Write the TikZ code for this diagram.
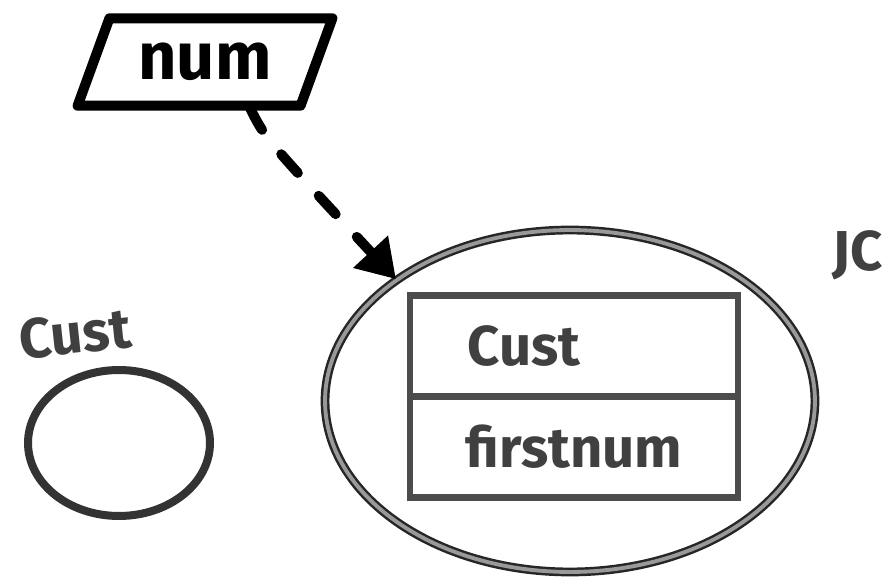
\documentclass[tikz,border=0pt]{standalone}
\usepackage{fontspec}
\setmainfont{Fira Sans}
\usepackage{tikz}
\usetikzlibrary{arrows.meta,positioning,shapes.geometric}

\begin{document}
\begin{tikzpicture}[
x=0.02cm, y=-0.02cm,
attr/.style={
    trapezium, draw,
    trapezium left angle=64, trapezium right angle=116,
    trapezium stretches=true,
    minimum width=5.1cm,
    minimum height=1.75cm,
    line width=0.2cm, line join=round,
    font=\fontsize{38}{42}\selectfont\bfseries
},
ent/.style={
    ellipse, draw=black!85,
    double=black!40, double distance=2.2pt,
    line width=1.4pt,
    minimum width=9.8cm,
    minimum height=6.84cm
},
blob/.style={
    ellipse, draw=black!80,
    line width=0.16cm,
    minimum width=3.64cm,
    minimum height=2.92cm
},
row/.style={
    rectangle, draw=black!70,
    line width=0.13cm,
    minimum width=6.56cm,
    minimum height=2.02cm,
    outer sep=0pt,
    text=black!75,
    font=\fontsize{32}{36}\selectfont\bfseries
},
lbl/.style={
    text=black!75,
    font=\fontsize{32}{36}\selectfont\bfseries
},
dasharr/.style={
    -{Triangle[length=0.75cm,width=0.9cm]},
    line width=0.2cm, line cap=round,
    dash pattern=on 0.5cm off 0.62cm
}
]
\useasboundingbox (0,0) rectangle (894,581);

\node[attr] (num) at (205,62) {num};
\node[ent] (jc) at (570,401) {};
\node[row] (cust) at (574,346) {Cust\hspace*{2cm}};
\node[row, below=0pt of cust] (firstnum) {firstnum};
\node[lbl] (jclabel) at (858,255) {JC};

\node[blob] (custent) at (119,443) {};
\node[lbl, rotate=6] (custlabel) at (75,334) {Cust};

\coordinate (numfoot) at (250,108);
\draw[dasharr] (numfoot) .. controls (265,138) .. (jc.145);

\end{tikzpicture}
\end{document}
